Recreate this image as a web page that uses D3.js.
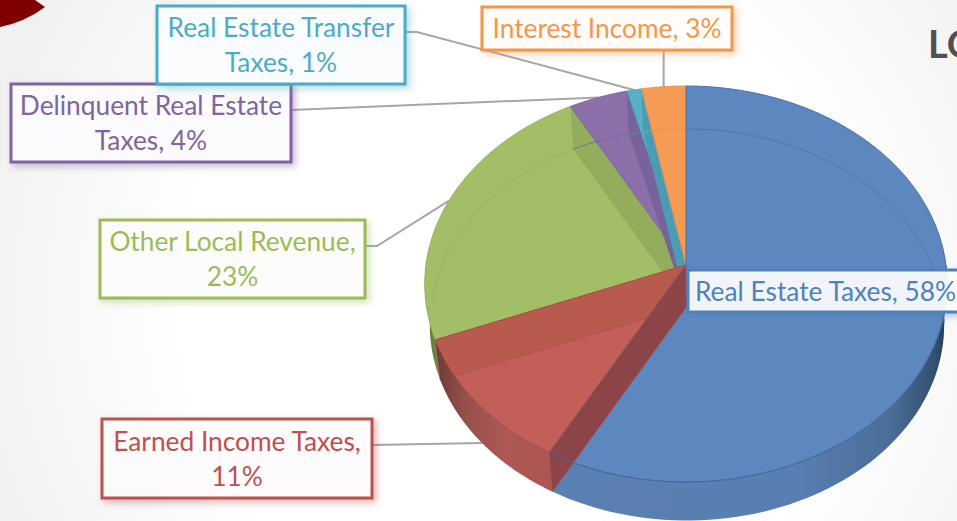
<!DOCTYPE html>
<html><head><meta charset="utf-8">
<style>html,body{margin:0;padding:0;background:#fff;overflow:hidden}svg{display:block}text{font-family:Lato,"Open Sans",sans-serif}</style>
<script src="https://cdn.jsdelivr.net/npm/d3@7"></script></head><body>
<script>
const categories=["Real Estate Taxes","Earned Income Taxes","Other Local Revenue","Delinquent Real Estate Taxes","Real Estate Transfer Taxes","Interest Income"];
const values=[58,11,23,4,1,3];
const labelLines=[["Real Estate Taxes, 58%"],["Earned Income Taxes,","11%"],["Other Local Revenue,","23%"],["Delinquent Real Estate","Taxes, 4%"],["Real Estate Transfer","Taxes, 1%"],["Interest Income, 3%"]];
const lineColors=["#4f81bd","#c0504d","#9bbb59","#8064a2","#4bacc6","#f79646"];
const faceColors=["#5c88bf","#c25f58","#a2bf68","#8a6fa9","#57b0c6","#f59b54"];
const wallColors=["#5a80b2","#ad5552","#94ad5c","#77629a","#4a9cb2","#ee9350"];
const lineDark=["#4f76a8","#a84f4a","#97b25f","#7d669f","#4a9cb2","#ea914c"];
const boxes=[[688,270,290,42],[102,419,270,79],[100,220,265,78],[11,84,280,78],[157,6,248,78],[482,7,250,43]];

const W=957,H=521;
const svg=d3.select("body").append("svg").attr("width",W).attr("height",H);
const defs=svg.append("defs");
const bg=defs.append("radialGradient").attr("id","bg").attr("gradientUnits","userSpaceOnUse").attr("cx",520).attr("cy",300).attr("r",560);
bg.append("stop").attr("offset",.6).attr("stop-color","#fff");bg.append("stop").attr("offset",1).attr("stop-color","#f1f1f1");
svg.append("rect").attr("width",W).attr("height",H).attr("fill","url(#bg)");
svg.append("path").attr("d","M0,27Q25,22 45,7L35,0L0,0Z").attr("fill","#7f0000");
svg.append("text").attr("x",928).attr("y",58).attr("font-size",38).attr("font-weight",700).attr("fill","#505050").text("LO");

// perspective projection of the pie disc
const cx=686,K=-0.0959;
const proj=(deg,r,depth)=>{const t=deg*Math.PI/180,u=Math.sin(t)*r,v=-Math.cos(t)*r,d=1+K*v;
  return depth?[cx+1+256*u/d,306+194*v/d]:[cx+260*u/d,265+196.2*v/d];};
const pie=d3.pie().sort(null).value(d=>d).startAngle(0).endAngle(2*Math.PI);
const deg=a=>a*180/Math.PI;
const slices=pie(values).map((s,i)=>({i,a0:deg(s.startAngle),a1:deg(s.endAngle)}));
const line=d3.line();
const rim=(a0,a1,depth)=>d3.range(0,65).map(k=>proj(a0+(a1-a0)*k/64,1,depth));
const face=s=>line([proj(0,0,false),...rim(s.a0,s.a1,false)])+"Z";
const radial=a=>line([proj(0,0,false),proj(a,1,false),proj(a,1,true),proj(0,0,true)])+"Z";
const outer=(a0,a1)=>line([...rim(a0,a1,false),...rim(a0,a1,true).reverse()])+"Z";

// leaders sit behind the pie
const leader=svg.append("g").attr("fill","none").attr("stroke","#a6a6a6").attr("stroke-width",2);
slices.forEach(s=>{ if(s.i===0) return;
  const mid=(s.a0+s.a1)/2,p=proj(mid,1,mid<270),b=boxes[s.i];
  let pts;
  if(s.i===5) pts=[[p[0],b[1]+b[3]],p];
  else if(s.i===4||s.i===2) pts=[[b[0]+b[2],b[1]+26],[b[0]+b[2]+12,b[1]+26],p];
  else pts=[[b[0]+b[2],b[1]+26],p];
  leader.append("path").attr("d",line(pts));
});

// wall gradients
const grad=(id,stops,x1,x2)=>{const g=defs.append("linearGradient").attr("id",id).attr("gradientUnits","userSpaceOnUse").attr("x1",x1).attr("x2",x2).attr("y1",0).attr("y2",0);
  stops.forEach(([o,c])=>g.append("stop").attr("offset",o).attr("stop-color",c));};
grad("wb",[[0,"#5a80b2"],[.62,"#587fb1"],[.85,"#4b6e98"],[.97,"#33506f"],[1,"#263a52"]],552,947);
grad("wr",[[0,"#6e3a36"],[.25,"#96504c"],[.6,"#ad5956"],[1,"#ad5552"]],436,552);
grad("wg",[[0,"#5f7236"],[1,"#7c9648"]],425,445);

const pie3=svg.append("g");
const [sB,sR,sG,sP,sT,sO]=slices;
const thin=(sel,c)=>sel.attr("stroke",c).attr("stroke-width",1);
pie3.append("path").attr("d",outer(sB.a0+90,sB.a1)).attr("fill","url(#wb)");
pie3.append("path").attr("d",outer(sR.a1,275)).attr("fill","url(#wg)");
[sG,sP,sT,sO].forEach(s=>{
  thin(pie3.append("path").attr("d",face(s)).attr("fill",faceColors[s.i]),lineDark[s.i]);
  const from=Math.max(s.a0,272);
  if(s.a1>from) pie3.append("path").attr("d",line(rim(from,s.a1,true))).attr("fill","none").attr("stroke",lineDark[s.i]).attr("stroke-width",1);
  if(s.i!==5) pie3.append("path").attr("d",radial(s.a1)).attr("fill",wallColors[s.i]);
});
thin(pie3.append("path").attr("d",face(sR)).attr("fill",faceColors[1]),"#ad4f49");
pie3.append("path").attr("d",radial(sR.a1)).attr("fill","#b85a4e").attr("stroke","#a94f47").attr("stroke-width",.8);
pie3.append("path").attr("d",outer(sR.a0,sR.a1)).attr("fill","url(#wr)");
thin(pie3.append("path").attr("d",line(rim(sR.a0,sR.a1,false))).attr("fill","none"),"#ad4f49");
thin(pie3.append("path").attr("d",face(sB)).attr("fill",faceColors[0]),"#4a74a8");
pie3.append("path").attr("d",line(rim(0,95,true))).attr("fill","none").attr("stroke",lineDark[0]).attr("stroke-width",1);
pie3.append("path").attr("d",radial(sR.a0)).attr("fill","#8c4448").attr("stroke","#a04a48").attr("stroke-width",.8);
pie3.append("path").attr("d",line(rim(sB.a0+90,sR.a0,false))).attr("fill","none").attr("stroke","#44699a").attr("stroke-width",1);

// labels
categories.forEach((name,i)=>{
  const id="sh"+i;
  const f=defs.append("filter").attr("id",id).attr("x","-10%").attr("y","-20%").attr("width","125%").attr("height","150%");
  f.append("feDropShadow").attr("dx",3).attr("dy",3).attr("stdDeviation",3.5).attr("flood-color",lineColors[i]).attr("flood-opacity",.45);
  const b=boxes[i],g=svg.append("g").attr("class","label").attr("data-name",name);
  g.append("rect").attr("x",b[0]).attr("y",b[1]).attr("width",b[2]).attr("height",b[3]).attr("fill","#fff").attr("fill-opacity",.9).attr("stroke",lineColors[i]).attr("stroke-width",3).attr("filter",`url(#${id})`);
  labelLines[i].forEach((t,j)=>{
    const n=labelLines[i].length;
    g.append("text").attr("x",i===0?695:b[0]+b[2]/2).attr("y",b[1]+b[3]/2+9.8+(j-(n-1)/2)*35)
      .attr("text-anchor",i===0?"start":"middle").attr("font-size",26.3).attr("fill",lineColors[i]).text(t);
  });
});
</script></body></html>
